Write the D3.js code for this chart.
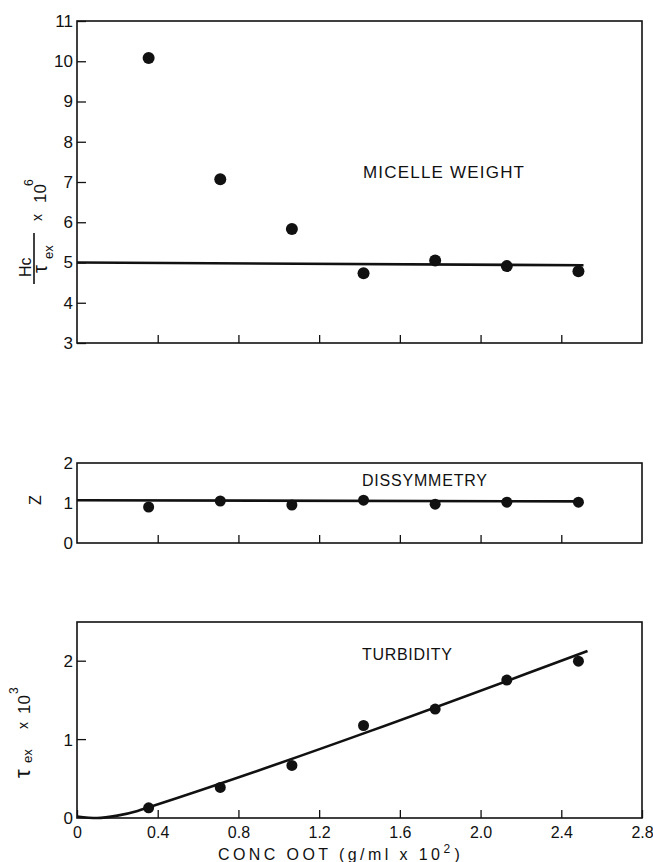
<!DOCTYPE html>
<html lang="en">
    <head>
        <meta charset="utf-8">
        <title>Micelle weight, dissymmetry and turbidity</title>
        <style type="text/css">
            body {
              margin: 0;
              background: white;
            }
            text {
              font-family: "Liberation Sans", Arial, sans-serif;
              fill: #111;
            }
            .tick text {
              font-size: 17px;
            }
            .tick line {
              stroke: #111;
              stroke-width: 1.3;
            }
            .frame {
              fill: none;
              stroke: #111;
              stroke-width: 1.6;
            }
            .fit {
              fill: none;
              stroke: #111;
              stroke-width: 2.6;
            }
        </style>
    </head>
    <body>
        <script src="https://cdnjs.cloudflare.com/ajax/libs/d3/7.8.5/d3.min.js"></script>
        <script type="text/javascript">

          // concentrations of the measured points (g/ml x 10^2)
          const conc = [0.355, 0.71, 1.065, 1.42, 1.775, 2.13, 2.485];

          // Hc / tau x 10^6
          const micelleWeight = [10.08, 7.07, 5.83, 4.73, 5.05, 4.91, 4.78];
          const micelleFitX = [0, 2.51];
          const micelleFitY = [5.0, 4.93];

          // dissymmetry Z
          const dissymmetry = [0.9, 1.05, 0.95, 1.07, 0.97, 1.02, 1.02];
          const dissFitX = [0, 2.5];
          const dissFitY = [1.07, 1.04];

          // turbidity x 10^3
          const turbidity = [0.13, 0.39, 0.67, 1.18, 1.39, 1.76, 2.0];
          const turbFitX = [0, 0.1, 0.2, 0.3, 0.36, 2.53];
          const turbFitY = [0.02, 0.0, 0.03, 0.09, 0.14, 2.13];

          // tick values
          const xTicks = [0, 0.4, 0.8, 1.2, 1.6, 2.0, 2.4, 2.8];
          const xTickLabels = ["0", "0.4", "0.8", "1.2", "1.6", "2.0", "2.4", "2.8"];
          const innerXTicks = [0.4, 0.8, 1.2, 1.6, 2.0, 2.4];
          const mwTicks = [3, 4, 5, 6, 7, 8, 9, 10, 11];
          const zTicks = [0, 1, 2];
          const turbTicks = [0, 1, 2];

          const width = 653, height = 862;

          var svg = d3.select("body")
                      .append("svg")
                      .attr("width", width)
                      .attr("height", height);

          // shared x scale
          var x = d3.scaleLinear().domain([0, 2.8]).range([77, 642]);

          // one scale per panel
          var yTop = d3.scaleLinear().domain([3, 11]).range([343, 21]);
          var yMid = d3.scaleLinear().domain([0, 2]).range([543, 463]);
          var yBot = d3.scaleLinear().domain([0, 2.5]).range([818, 622]);

          function drawPanel(y, yTickValues, xLabels, fitX, fitY, values, radius, curve) {
            var g = svg.append("g");

            // frame
            g.append("rect")
             .attr("class", "frame")
             .attr("x", x.range()[0])
             .attr("y", y.range()[1])
             .attr("width", x.range()[1] - x.range()[0])
             .attr("height", y.range()[0] - y.range()[1]);

            // left axis, ticks pointing inwards
            if (yTickValues) {
              var yAxis = d3.axisLeft(y)
                            .tickValues(yTickValues)
                            .tickSizeInner(-9)
                            .tickSizeOuter(0)
                            .tickPadding(4)
                            .tickFormat(d3.format("d"));
              g.append("g")
               .attr("transform", "translate(" + x.range()[0] + ",0)")
               .call(yAxis)
               .call(function (a) { a.select(".domain").remove(); });
            }

            // bottom axis, ticks pointing up
            var xAxis = d3.axisBottom(x)
                          .tickSizeInner(-8)
                          .tickSizeOuter(0)
                          .tickPadding(9);
            if (xLabels) {
              xAxis.tickValues(xTicks).tickFormat(function (d, i) { return xLabels[i]; });
            } else {
              xAxis.tickValues(innerXTicks).tickFormat("");
            }
            var xg = g.append("g")
                      .attr("transform", "translate(0," + y.range()[0] + ")")
                      .call(xAxis)
                      .call(function (a) { a.select(".domain").remove(); });
            xg.selectAll("text").style("font-size", "16px");

            // fitted line
            var line = d3.line()
                         .x(function (d) { return x(d[0]); })
                         .y(function (d) { return y(d[1]); })
                         .curve(curve || d3.curveLinear);
            g.append("path")
             .attr("class", "fit")
             .attr("d", line(d3.zip(fitX, fitY)));

            // measured points
            g.selectAll("circle")
             .data(d3.zip(conc, values))
             .enter()
             .append("circle")
             .attr("cx", function (d) { return x(d[0]); })
             .attr("cy", function (d) { return y(d[1]); })
             .attr("r", radius)
             .attr("fill", "#111");

            return g;
          }

          drawPanel(yTop, mwTicks, null, micelleFitX, micelleFitY, micelleWeight, 6);
          drawPanel(yMid, null, null, dissFitX, dissFitY, dissymmetry, 5.5);
          drawPanel(yBot, null, xTickLabels, turbFitX, turbFitY, turbidity, 5.5, d3.curveMonotoneX);

          // y labels for the middle panel (no ticks)
          svg.selectAll("text.zlab")
             .data(zTicks)
             .enter()
             .append("text")
             .attr("class", "zlab")
             .attr("x", 73)
             .attr("y", function (d) { return yMid(d) + 6; })
             .attr("text-anchor", "end")
             .style("font-size", "17px")
             .text(function (d) { return d; });

          // y labels for the bottom panel, ticks only at 1 and 2
          svg.selectAll("text.tlab")
             .data(turbTicks)
             .enter()
             .append("text")
             .attr("class", "tlab")
             .attr("x", 73)
             .attr("y", function (d) { return yBot(d) + 6; })
             .attr("text-anchor", "end")
             .style("font-size", "17px")
             .text(function (d) { return d; });
          svg.selectAll("line.tt")
             .data(turbTicks.slice(1))
             .enter()
             .append("line")
             .attr("class", "tt")
             .attr("x1", x(0)).attr("x2", x(0) + 9)
             .attr("y1", function (d) { return yBot(d); })
             .attr("y2", function (d) { return yBot(d); })
             .attr("stroke", "#111")
             .attr("stroke-width", 1.3);

          // panel captions
          svg.append("text").attr("x", 363).attr("y", 178)
             .attr("textLength", 161).attr("lengthAdjust", "spacing")
             .style("font-size", "17px").text("MICELLE WEIGHT");
          svg.append("text").attr("x", 362).attr("y", 486)
             .attr("textLength", 125).attr("lengthAdjust", "spacing")
             .style("font-size", "16px").text("DISSYMMETRY");
          svg.append("text").attr("x", 362).attr("y", 660)
             .attr("textLength", 90).attr("lengthAdjust", "spacing")
             .style("font-size", "16px").text("TURBIDITY");

          // y title, top panel: Hc / tau_ex x 10^6
          var t1 = svg.append("g").attr("transform", "rotate(-90)");
          t1.append("text").attr("x", -277).attr("y", 31).style("font-size", "16px").text("Hc");
          t1.append("line").attr("x1", -284).attr("x2", -233).attr("y1", 34).attr("y2", 34)
            .attr("stroke", "#111").attr("stroke-width", 1.6);
          t1.append("text").attr("x", -273).attr("y", 47).style("font-size", "20px").text("τ");
          t1.append("text").attr("x", -259).attr("y", 53).style("font-size", "13px").text("ex");
          t1.append("text").attr("x", -221).attr("y", 42).style("font-size", "14px").text("x");
          t1.append("text").attr("x", -203).attr("y", 46).style("font-size", "17px").text("10");
          t1.append("text").attr("x", -186).attr("y", 33).style("font-size", "12px").text("6");

          // y title, middle panel
          svg.append("text")
             .attr("transform", "translate(41,500) rotate(-90)")
             .attr("text-anchor", "middle")
             .style("font-size", "16px")
             .text("Z");

          // y title, bottom panel: tau_ex x 10^3
          var t3 = svg.append("g").attr("transform", "rotate(-90)");
          t3.append("text").attr("x", -778).attr("y", 30).style("font-size", "22px").text("τ");
          t3.append("text").attr("x", -763).attr("y", 32).style("font-size", "13px").text("ex");
          t3.append("text").attr("x", -729).attr("y", 28).style("font-size", "14px").text("x");
          t3.append("text").attr("x", -714).attr("y", 30).style("font-size", "17px").text("10");
          t3.append("text").attr("x", -694).attr("y", 18).style("font-size", "12px").text("3");

          // x title
          var xt = svg.append("text").attr("x", 218).attr("y", 860).style("font-size", "16px");
          xt.append("tspan").attr("textLength", 222).attr("lengthAdjust", "spacing")
            .text("CONC  OOT  (g/ml  x 10");
          xt.append("tspan").attr("dy", -7).style("font-size", "12px").text("2");
          xt.append("tspan").attr("dy", 7).text(" )");

        </script>
    </body>
</html>
